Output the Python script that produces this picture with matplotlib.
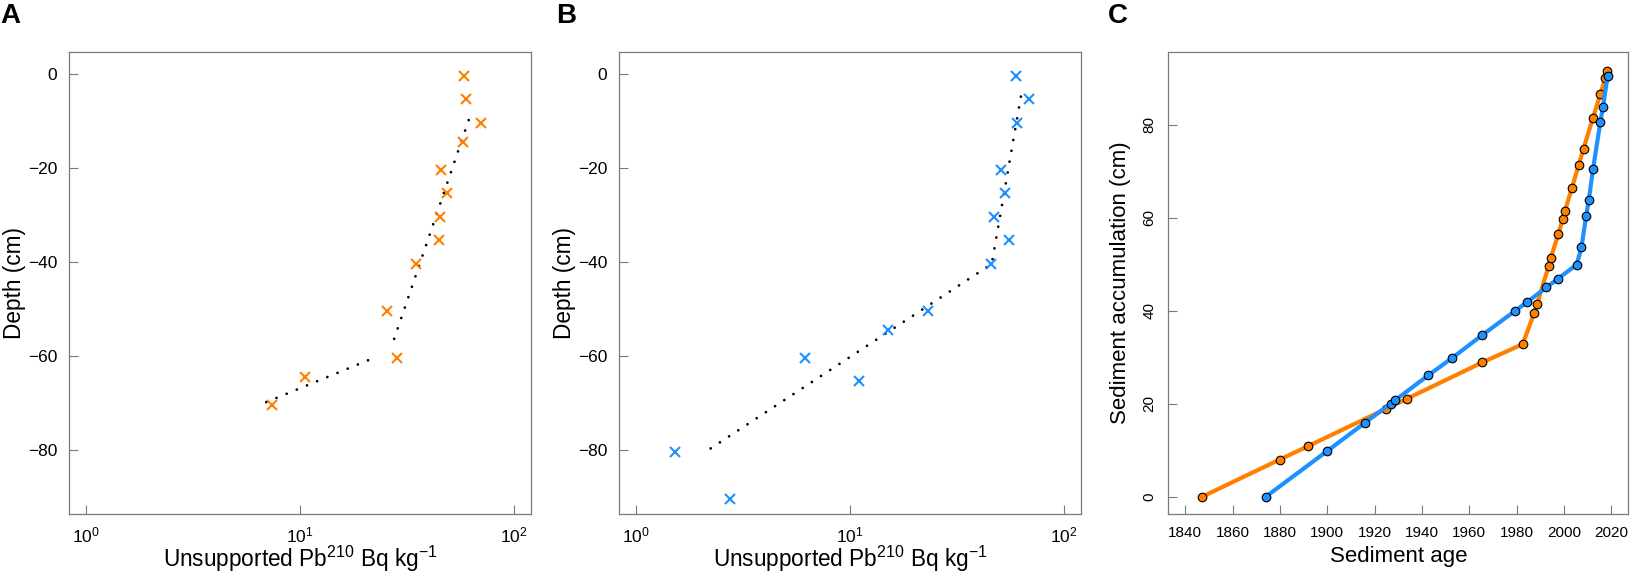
import numpy as np
import matplotlib
matplotlib.use("Agg")
import matplotlib.pyplot as plt
from matplotlib.ticker import LogLocator, NullLocator, FixedLocator

plt.rcParams['font.family'] = ['Liberation Sans', 'DejaVu Sans']
plt.rcParams['mathtext.fontset'] = 'custom'
plt.rcParams['mathtext.rm'] = 'Liberation Sans'
plt.rcParams['mathtext.it'] = 'Liberation Sans:italic'
plt.rcParams['mathtext.bf'] = 'Liberation Sans:bold'

# --- panel A: core 1 activity profile ---
depth_a = [-0.5, -5.5, -10.5, -14.5, -20.5, -25.5, -30.5, -35.5, -40.5, -50.5, -60.5, -64.5, -70.5]
pb_a = [58.2, 59.9, 70.5, 57.9, 45.7, 48.8, 45.0, 44.8, 34.8, 25.6, 28.3, 10.6, 7.38]
# fitted segments (dotted)
fit_a1_x = [61.5, 26.6]
fit_a1_y = [-9.9, -58.5]
fit_a2_x = [20.8, 6.62]
fit_a2_y = [-61.0, -70.3]

# --- panel B: core 2 activity profile ---
depth_b = [-0.5, -5.5, -10.5, -20.5, -25.5, -30.5, -35.5, -40.5, -50.5, -54.5, -60.5, -65.5, -80.5, -90.5]
pb_b = [59.8, 69.0, 60.4, 51.2, 52.9, 47.3, 55.8, 45.6, 23.3, 15.0, 6.18, 10.98, 1.52, 2.74]
fit_b_x = [63.1, 46.1, 2.09]
fit_b_y = [-4.9, -40.5, -80.6]

# --- panel C: age-depth models ---
age_orange = [1847.1, 1879.9, 1892.0, 1924.8, 1933.8, 1965.6, 1982.6, 1987.5, 1988.7, 1993.6,
              1994.5, 1997.6, 1999.5, 2000.4, 2003.4, 2006.3, 2008.3, 2012.3, 2015.4, 2017.4, 2018.3]
acc_orange = [0, 8.0, 10.9, 18.9, 21.1, 28.9, 32.8, 39.6, 41.4, 49.7,
              51.4, 56.4, 59.7, 61.4, 66.4, 71.4, 74.8, 81.5, 86.5, 89.9, 91.6]
age_blue = [1874.0, 1899.9, 1915.9, 1926.8, 1928.8, 1942.7, 1952.7, 1965.6, 1979.5, 1984.6,
            1992.6, 1997.6, 2005.4, 2007.4, 2009.4, 2010.5, 2012.3, 2015.4, 2016.5, 2018.5]
acc_blue = [0, 9.8, 15.9, 20.0, 20.8, 26.1, 29.8, 34.8, 40.0, 41.9,
            45.0, 46.9, 49.9, 53.6, 60.3, 63.7, 70.4, 80.5, 83.8, 90.5]

orange = '#FF8000'
blue = '#1E90FF'
frame = '#7a7a7a'
dotted = (0, (0.01, 3.95))

fig = plt.figure(figsize=(16.33, 5.73), dpi=100)
axA = fig.add_axes([0.0424, 0.1030, 0.2827, 0.8063])
axB = fig.add_axes([0.3791, 0.1030, 0.2827, 0.8063])
axC = fig.add_axes([0.7154, 0.1030, 0.2817, 0.8063])


def style(ax, size):
    for s in ax.spines.values():
        s.set_color(frame)
        s.set_linewidth(0.9)
    ax.tick_params(direction='in', length=6.8, width=0.8, color=frame,
                   labelsize=size, pad=8.5)
    ax.tick_params(which='minor', length=0)


xlab = r'Unsupported Pb$^{210}$ Bq kg$^{-1}$'
for ax, d, v in [(axA, depth_a, pb_a), (axB, depth_b, pb_b)]:
    ax.set_xscale('log')
    ax.set_xlim(10 ** -0.08, 10 ** 2.08)
    ax.set_ylim(-93.7, 4.6)
    ax.xaxis.set_major_locator(LogLocator(base=10, numticks=4))
    ax.xaxis.set_minor_locator(NullLocator())
    ax.yaxis.set_major_locator(FixedLocator([-80, -60, -40, -20, 0]))
    style(ax, 12.5)
    lbl = ax.set_xlabel(xlab, fontsize=16.3)
    lbl.set_va('baseline')
    ax.xaxis.set_label_coords(0.5, -0.114)
    yl = ax.set_ylabel('Depth (cm)', fontsize=16.3)
    yl.set_va('center')
    ax.yaxis.set_label_coords(-0.119, 0.5)

axA.plot(fit_a1_x, fit_a1_y, color='black', lw=2.0, ls=dotted, dash_capstyle='round')
axA.plot(fit_a2_x, fit_a2_y, color='black', lw=2.0, ls=dotted, dash_capstyle='round')
axA.plot(pb_a, depth_a, 'x', color=orange, ms=7.2, mew=1.5, ls='none')

axB.plot(fit_b_x, fit_b_y, color='black', lw=2.0, ls=dotted, dash_capstyle='round')
axB.plot(pb_b, depth_b, 'x', color=blue, ms=7.2, mew=1.5, ls='none')

axC.plot(age_orange, acc_orange, '-o', color=orange, lw=3, ms=6.2,
         mfc=orange, mec='black', mew=0.8, zorder=3)
axC.plot(age_blue, acc_blue, '-o', color=blue, lw=3, ms=6.2,
         mfc=blue, mec='black', mew=0.8, zorder=4)
axC.set_xlim(1832.8, 2027.2)
axC.set_ylim(-3.7, 95.6)
axC.set_xticks(np.arange(1840, 2021, 20))
axC.set_yticks([0, 20, 40, 60, 80])
style(axC, 11)
for t in axC.get_yticklabels():
    t.set_rotation(90)
    t.set_va('center')
lc = axC.set_xlabel('Sediment age', fontsize=16)
lc.set_va('baseline')
axC.xaxis.set_label_coords(0.5, -0.103)
ylc = axC.set_ylabel('Sediment accumulation (cm)', fontsize=16)
ylc.set_va('center')
axC.yaxis.set_label_coords(-0.103, 0.5)

for x, s in [(0.0004, 'A'), (0.3405, 'B'), (0.6786, 'C')]:
    fig.text(x, 0.9593, s, fontsize=20, fontweight='bold', va='baseline', ha='left')

fig.savefig('out.png', dpi=100)
